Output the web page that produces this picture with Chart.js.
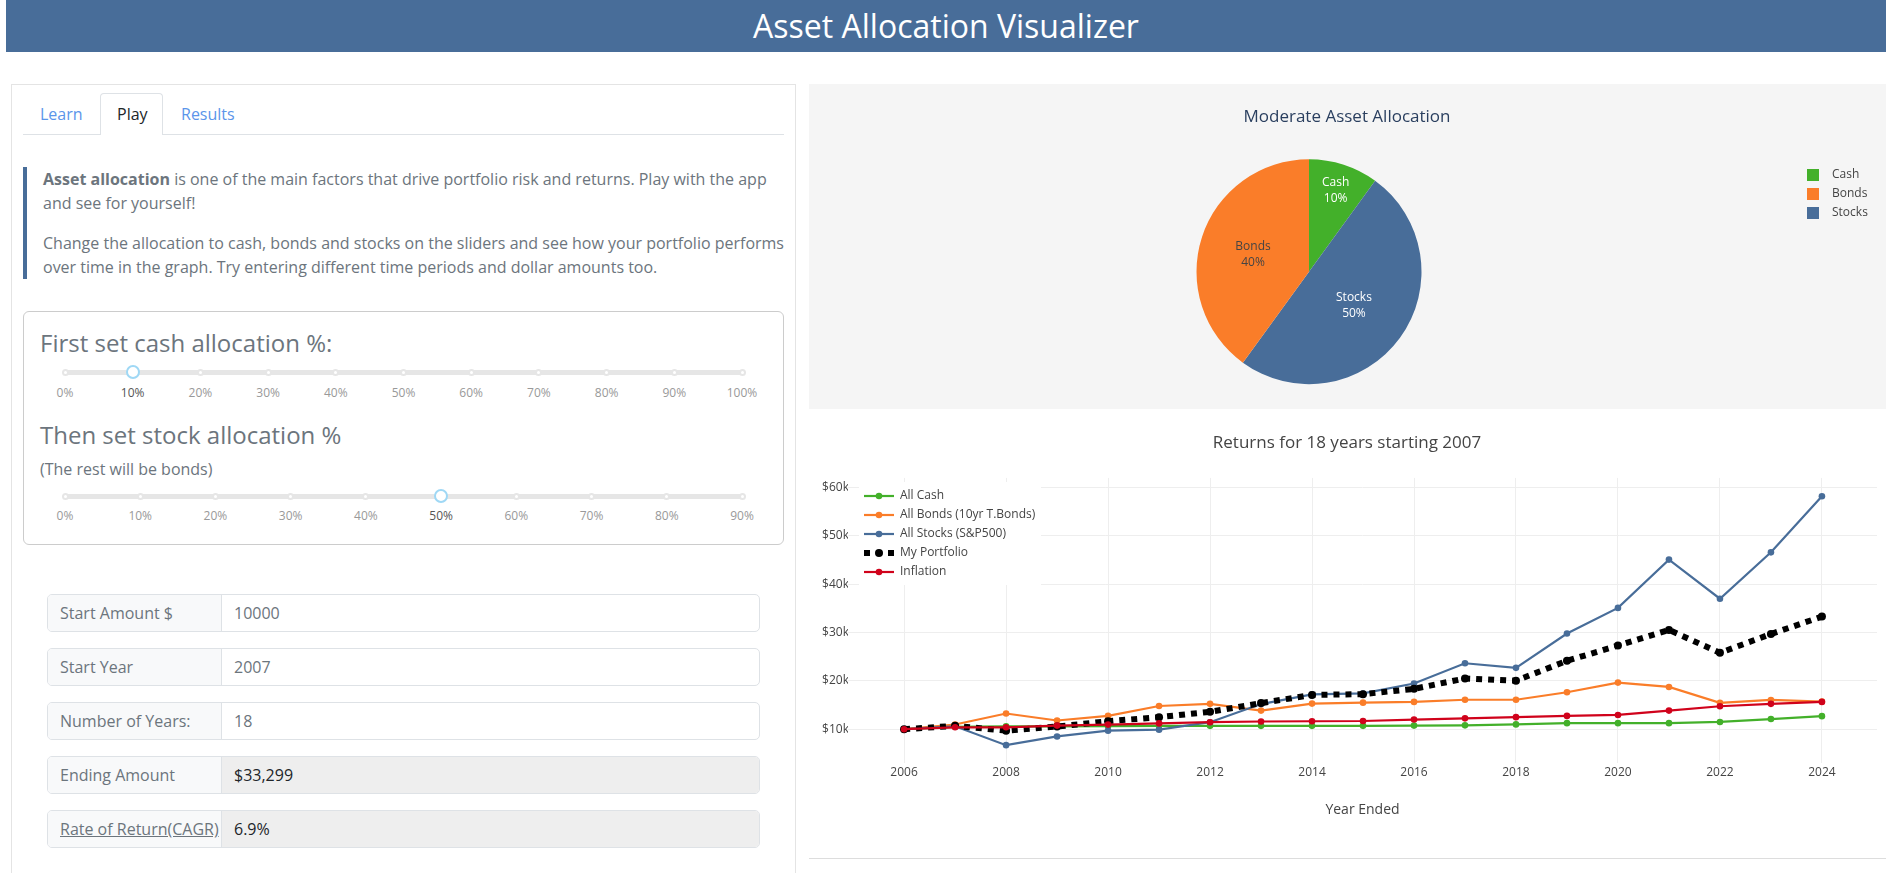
<!DOCTYPE html>
<html>
<head>
<meta charset="utf-8">
<title>Asset Allocation Visualizer</title>
<script src="https://cdn.jsdelivr.net/npm/chart.js@4"></script>
<style>
  html, body { margin: 0; padding: 0; width: 1892px; height: 873px; overflow: hidden; background: #fff; }
  body { font-family: "Open Sans", sans-serif; font-size: 16px; color: #6c757d; position: relative; }
  .abs { position: absolute; white-space: nowrap; }
  #header { left: 6px; top: 0; width: 1880px; height: 52px; background: #486d99; color: #fff; font-size: 32px; line-height: 51px; text-align: center; }
  #panel { left: 11px; top: 84px; width: 785px; height: 800px; border: 1px solid #e4e4e4; box-sizing: border-box; }
  #tabline { left: 23px; top: 134px; width: 761px; height: 1px; background: #dee2e6; }
  #activetab { left: 100px; top: 93px; width: 63px; height: 42px; box-sizing: border-box; background: #fff; border: 1px solid #dee2e6; border-bottom: 0; border-radius: 4px 4px 0 0; }
  .tab { top: 102px; line-height: 24px; color: #5b95ea; }
  #quotebar { left: 23px; top: 167px; width: 4px; height: 112px; background: #486d99; }
  .para { left: 43px; line-height: 24px; }
  #slidercard { left: 23px; top: 311px; width: 761px; height: 234px; box-sizing: border-box; border: 1px solid #ccc; border-radius: 6px; }
  .h4 { left: 40px; font-size: 24px; line-height: 30px; }
  .track { left: 65px; width: 677px; height: 5px; background: #e6e6e6; }
  .dot { width: 7px; height: 7px; box-sizing: border-box; background: #fff; border: 2px solid #e6e6e6; border-radius: 50%; }
  .handle { width: 14px; height: 14px; box-sizing: border-box; background: #fff; border: 2px solid #9fd8f5; border-radius: 50%; }
  .ticklabel { font-size: 12px; line-height: 16px; color: #999; transform: translateX(-50%); }
  .ticklabel.on { color: #555; }
  .row { left: 47px; width: 713px; height: 38px; box-sizing: border-box; border: 1px solid #dee2e6; border-radius: 5px; overflow: hidden; background: #fff; }
  .row .name { position: absolute; left: 0; top: 0; width: 174px; height: 36px; box-sizing: border-box; padding-left: 12px; line-height: 36px; background: #f8f9fa; border-right: 1px solid #dee2e6; }
  .row .val { position: absolute; left: 174px; top: 0; right: 0; height: 36px; padding-left: 12px; line-height: 36px; }
  .row.out .val { background: #eee; color: #212529; }
  #pieback { left: 809px; top: 84px; width: 1077px; height: 325px; background: #f5f5f5; }
  #bottomline { left: 809px; top: 858px; width: 1077px; height: 1px; background: #ddd; }
  canvas { position: absolute; display: block; }
</style>
</head>
<body>
<div class="abs" id="header">Asset Allocation Visualizer</div>
<div class="abs" id="panel"></div>
<div class="abs" id="tabline"></div>
<div class="abs" id="activetab"></div>
<div class="abs tab" style="left:40px">Learn</div>
<div class="abs tab" style="left:117px;color:#212529">Play</div>
<div class="abs tab" style="left:181px">Results</div>
<div class="abs" id="quotebar"></div>
<div class="abs para" style="top:167px"><b>Asset allocation</b> is one of the main factors that drive portfolio risk and returns. Play with the app<br>and see for yourself!</div>
<div class="abs para" style="top:231px">Change the allocation to cash, bonds and stocks on the sliders and see how your portfolio performs<br>over time in the graph. Try entering different time periods and dollar amounts too.</div>
<div class="abs" id="slidercard"></div>
<div class="abs h4" style="top:328px">First set cash allocation %:</div>
<div class="abs h4" style="top:420px">Then set stock allocation %</div>
<div class="abs" style="left:40px;top:457px;line-height:24px">(The rest will be bonds)</div>
<div id="sliders"></div>
<div id="rows"></div>
<div class="abs" id="pieback"></div>
<div class="abs" id="bottomline"></div>
<canvas id="pieChart" width="1077" height="325" style="left:809px;top:84px"></canvas>
<canvas id="lineChart" width="1077" height="437" style="left:809px;top:420px"></canvas>

<script>
// pie values
const pieLabels = ['Cash', 'Stocks', 'Bonds'];
const pieValues = [10, 50, 40];
const pieColors = ['#43b02a', '#486d99', '#fa7d29'];
const pieTextColors = ['#ffffff', '#ffffff', '#444444'];
const pieLegendOrder = ['Cash', 'Bonds', 'Stocks'];

// line chart values
const years = [2006, 2007, 2008, 2009, 2010, 2011, 2012, 2013, 2014, 2015, 2016, 2017, 2018, 2019, 2020, 2021, 2022, 2023, 2024];
const allCash = [10000, 10500, 10600, 10600, 10650, 10700, 10700, 10700, 10700, 10700, 10750, 10800, 11000, 11250, 11250, 11250, 11500, 12100, 12700];
const allBonds = [10000, 10970, 13250, 11800, 12750, 14800, 15250, 13850, 15300, 15500, 15650, 16100, 16100, 17650, 19650, 18750, 15450, 16050, 15700];
const allStocks = [10000, 10600, 6700, 8500, 9700, 9900, 11450, 15200, 17200, 17400, 19450, 23650, 22700, 29800, 35100, 45100, 37000, 46600, 58200];
const myPortfolio = [10000, 10700, 9700, 10550, 11650, 12500, 13600, 15400, 17100, 17250, 18350, 20500, 20050, 24150, 27300, 30550, 25800, 29700, 33299];
const inflation = [10000, 10400, 10400, 10750, 10950, 11200, 11450, 11600, 11650, 11700, 12000, 12250, 12500, 12750, 12950, 13850, 14750, 15250, 15650];
const dollarTicks = [10000, 20000, 30000, 40000, 50000, 60000];

// slider tick labels
const cashTicks = ['0%', '10%', '20%', '30%', '40%', '50%', '60%', '70%', '80%', '90%', '100%'];
const stockTicks = ['0%', '10%', '20%', '30%', '40%', '50%', '60%', '70%', '80%', '90%'];

// form rows
const rowNames = ['Start Amount $', 'Start Year', 'Number of Years:', 'Ending Amount', 'Rate of Return(CAGR)'];
const rowValues = ['10000', '2007', '18', '$33,299', '6.9%'];

Chart.defaults.font.family = '"Open Sans", sans-serif';
Chart.defaults.animation = false;

function addDiv(parent, cls, style, text) {
    const d = document.createElement('div');
    d.className = 'abs ' + cls;
    d.style.cssText = style;
    if (text) d.textContent = text;
    parent.appendChild(d);
    return d;
}

function buildSlider(ticks, active, trackY, labelY) {
    const box = document.getElementById('sliders');
    addDiv(box, 'track', `top:${trackY - 2.5}px`);
    const step = 677 / (ticks.length - 1);
    ticks.forEach((t, i) => {
        const x = 65 + i * step;
        if (i === active) {
            addDiv(box, 'handle', `left:${x - 7}px;top:${trackY - 7}px`);
        } else {
            addDiv(box, 'dot', `left:${x - 3.5}px;top:${trackY - 3.5}px`);
        }
        addDiv(box, 'ticklabel' + (i === active ? ' on' : ''), `left:${x}px;top:${labelY - 8}px`, t);
    });
}
buildSlider(cashTicks, 1, 372, 393);
buildSlider(stockTicks, 5, 496, 516);

rowNames.forEach((name, i) => {
    const row = addDiv(document.getElementById('rows'), 'row' + (i > 2 ? ' out' : ''), `top:${594 + i * 54}px`);
    const n = document.createElement('div');
    n.className = 'name';
    n.textContent = name;
    if (i === 4) n.style.textDecoration = 'underline';
    const v = document.createElement('div');
    v.className = 'val';
    v.textContent = rowValues[i];
    row.appendChild(n);
    row.appendChild(v);
});

// moves the title and legend to where the reference has them
const placeBoxes = {
    id: 'placeBoxes',
    beforeDraw(chart, args, opts) {
        const t = chart.titleBlock;
        t.left = opts.titleX - 400;
        t.right = opts.titleX + 400;
        const l = chart.legend;
        l.left = opts.legendX;
        l.top = opts.legendY;
        l.right = opts.legendX + 300;
        l.bottom = opts.legendY + 200;
    },
    beforeDatasetsDraw(chart, args, opts) {
        if (!opts.whiteBox) return;
        // legend sits on a white box that hides the grid
        const b = opts.whiteBox;
        chart.ctx.save();
        chart.ctx.fillStyle = '#fff';
        chart.ctx.fillRect(b[0], b[1], b[2], b[3]);
        chart.ctx.restore();
        chart.legend.draw();
    }
};

// label and percent inside each slice
const sliceText = {
    id: 'sliceText',
    afterDatasetsDraw(chart, args, opts) {
        const ctx = chart.ctx;
        const arcs = chart.getDatasetMeta(0).data;
        ctx.save();
        ctx.font = '12px "Open Sans"';
        ctx.textAlign = 'center';
        ctx.textBaseline = 'middle';
        arcs.forEach((arc, i) => {
            const mid = (arc.startAngle + arc.endAngle) / 2;
            const r = arc.outerRadius * opts.radii[i];
            const x = arc.x + Math.cos(mid) * r;
            const y = arc.y + Math.sin(mid) * r + 1;
            ctx.fillStyle = pieTextColors[i];
            ctx.fillText(pieLabels[i], x, y - 7.8);
            ctx.fillText(pieValues[i] + '%', x, y + 7.8);
        });
        ctx.restore();
    }
};

function swatch(color) {
    const c = document.createElement('canvas');
    c.width = 19;
    c.height = 12;
    const g = c.getContext('2d');
    g.fillStyle = color;
    g.fillRect(0, 0, 12, 12);
    return c;
}

new Chart(document.getElementById('pieChart').getContext('2d'), {
    type: 'pie',
    data: {
        labels: pieLabels,
        datasets: [{ data: pieValues, backgroundColor: pieColors, borderWidth: 0 }]
    },
    plugins: [placeBoxes, sliceText],
    options: {
        responsive: false,
        layout: { padding: { right: 77, bottom: 24.8 } },
        plugins: {
            tooltip: { enabled: false },
            title: {
                display: true,
                text: 'Moderate Asset Allocation',
                color: '#2a3f5f',
                font: { size: 17, weight: 'normal' },
                padding: { top: 22.8, bottom: 32 }
            },
            legend: {
                position: 'chartArea',
                align: 'start',
                labels: {
                    usePointStyle: true,
                    pointStyleWidth: 19,
                    padding: 7,
                    color: '#444',
                    font: { size: 12 },
                    generateLabels() {
                        return pieLegendOrder.map(name => ({
                            text: name,
                            fontColor: '#444',
                            pointStyle: swatch(pieColors[pieLabels.indexOf(name)]),
                            lineWidth: 0
                        }));
                    }
                }
            },
            placeBoxes: { titleX: 538, legendX: 991, legendY: 78 },
            sliceText: { radii: [0.765, 0.494, 0.523] }
        }
    }
});

function lineSample(color, width, dash, radius) {
    const c = document.createElement('canvas');
    c.width = 30;
    c.height = 12;
    const g = c.getContext('2d');
    g.strokeStyle = color;
    g.lineWidth = width;
    g.setLineDash(dash);
    g.beginPath();
    g.moveTo(0, 6);
    g.lineTo(30, 6);
    g.stroke();
    g.fillStyle = color;
    g.beginPath();
    g.arc(15, 6, radius, 0, Math.PI * 2);
    g.fill();
    return c;
}

// lower order draws on top, so inflation ends up over the rest
function series(label, values, color, width, dash, radius, order) {
    return {
        label: label,
        data: values.map((v, i) => ({ x: years[i], y: v })),
        borderColor: color,
        backgroundColor: color,
        borderWidth: width,
        borderDash: dash,
        pointRadius: radius,
        pointBorderWidth: 0,
        tension: 0,
        order: order
    };
}

const lineDatasets = [
    series('All Cash', allCash, '#43b02a', 2.2, [], 3.3, 5),
    series('All Bonds (10yr T.Bonds)', allBonds, '#fa7d29', 2.2, [], 3.3, 4),
    series('All Stocks (S&P500)', allStocks, '#486d99', 2.2, [], 3.3, 3),
    series('My Portfolio', myPortfolio, '#000000', 6, [6, 6], 4, 2),
    series('Inflation', inflation, '#d0021b', 2.2, [], 3.3, 1)
];

new Chart(document.getElementById('lineChart').getContext('2d'), {
    type: 'line',
    data: { datasets: lineDatasets },
    plugins: [placeBoxes],
    options: {
        responsive: false,
        layout: { padding: { right: 9 } },
        scales: {
            x: {
                type: 'linear',
                min: 2004.9,
                max: 2025.08,
                afterFit(scale) { scale.height = 94.1; },
                border: { display: false },
                grid: { color: '#eeeeee', drawTicks: false },
                ticks: {
                    stepSize: 2,
                    includeBounds: false,
                    autoSkip: false,
                    maxRotation: 0,
                    padding: 2,
                    color: '#444',
                    font: { size: 12 },
                    callback: v => String(v)
                },
                title: {
                    display: true,
                    text: 'Year Ended',
                    color: '#444',
                    font: { size: 14 },
                    padding: { top: 0, bottom: 39 }
                }
            },
            y: {
                min: 3030,
                max: 62000,
                afterFit(scale) { scale.width = 39; },
                afterBuildTicks(scale) { scale.ticks = dollarTicks.map(v => ({ value: v })); },
                border: { display: false },
                grid: { color: '#eeeeee', drawTicks: false },
                ticks: {
                    padding: -1,
                    color: '#444',
                    font: { size: 12 },
                    callback: v => '$' + (v / 1000) + 'k'
                }
            }
        },
        plugins: {
            tooltip: { enabled: false },
            title: {
                display: true,
                text: 'Returns for 18 years starting 2007',
                color: '#444',
                font: { size: 17, weight: 'normal' },
                padding: { top: 12.8, bottom: 24.7 }
            },
            legend: {
                position: 'chartArea',
                align: 'start',
                labels: {
                    usePointStyle: true,
                    pointStyleWidth: 30,
                    padding: 7,
                    font: { size: 12 },
                    generateLabels(chart) {
                        return chart.data.datasets.map(ds => ({
                            text: ds.label,
                            fontColor: '#444',
                            lineWidth: 0,
                            pointStyle: lineSample(ds.borderColor, ds.borderWidth, ds.borderDash, ds.pointRadius)
                        }));
                    }
                }
            },
            placeBoxes: { titleX: 538, legendX: 48, legendY: 63, whiteBox: [50, 62, 182, 103] }
        }
    }
});
</script>
</body>
</html>
